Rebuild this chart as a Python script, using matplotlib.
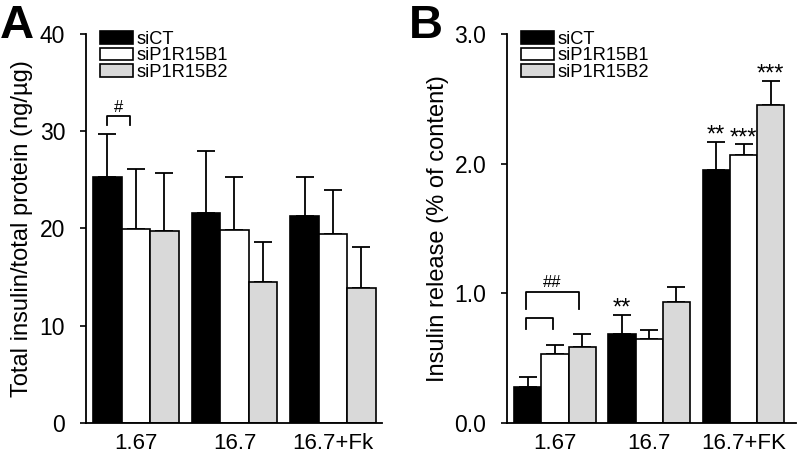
import matplotlib
matplotlib.use("Agg")
import matplotlib.pyplot as plt
import numpy as np

plt.rcParams["font.family"] = ["Liberation Sans", "DejaVu Sans"]

groups_a = ["1.67", "16.7", "16.7+Fk"]
groups_b = ["1.67", "16.7", "16.7+FK"]
series = ["siCT", "siP1R15B1", "siP1R15B2"]
colors = ["black", "white", "#d9d9d9"]

# panel A: total insulin / total protein (ng/ug)
a_mean = [[25.3, 21.6, 21.3],
          [19.9, 19.8, 19.4],
          [19.7, 14.5, 13.9]]
a_err = [[4.4, 6.4, 4.0],
         [6.2, 5.5, 4.6],
         [6.0, 4.15, 4.2]]

# panel B: insulin release (% of content)
b_mean = [[0.28, 0.69, 1.95],
          [0.53, 0.65, 2.07],
          [0.59, 0.93, 2.45]]
b_err = [[0.075, 0.145, 0.22],
         [0.075, 0.07, 0.08],
         [0.10, 0.115, 0.19]]

SPACING = 3.46
W = 1.0

fig = plt.figure(figsize=(7.98, 4.59), dpi=100)
axA = fig.add_axes([0.1078, 0.0784, 0.3709, 0.8476])
axB = fig.add_axes([0.6353, 0.0784, 0.3627, 0.8476])


def draw(ax, means, errs, labels, ylim, yticks, fmt):
    xc = np.arange(len(labels)) * SPACING
    for k in range(len(series)):
        xs = xc + (k - 1) * W
        ax.bar(xs, means[k], width=W, color=colors[k], edgecolor="black",
               linewidth=1.2, label=series[k], zorder=2)
        ax.errorbar(xs, means[k], yerr=[np.zeros(len(errs[k])), errs[k]],
                    fmt="none", ecolor="black", elinewidth=1.3, capsize=6.5,
                    capthick=1.3, zorder=1)
    ax.set_xticks(xc)
    ax.set_xticklabels(labels, fontsize=16)
    ax.tick_params(axis="x", length=0, pad=7)
    ax.set_ylim(*ylim)
    ax.set_yticks(yticks)
    ax.set_yticklabels([fmt % v for v in yticks], fontsize=16.5)
    ax.tick_params(axis="y", direction="out", length=4, width=1.2, pad=11)
    for s in ("top", "right"):
        ax.spines[s].set_visible(False)
    for s in ("left", "bottom"):
        ax.spines[s].set_linewidth(1.3)
    ax.legend(loc="upper left", bbox_to_anchor=(0.01, 1.035), frameon=False,
              fontsize=13.2, handlelength=1.8, handleheight=0.71,
              handletextpad=0.2, labelspacing=-0.05, borderaxespad=0.2)
    return xc


xa = draw(axA, a_mean, a_err, groups_a, (0, 40), [0, 10, 20, 30, 40], "%d")
axA.set_xlim(-1.75, 8.64)
axA.set_ylabel("Total insulin/total protein (ng/\u00b5g)", fontsize=17,
               labelpad=5)

xb = draw(axB, b_mean, b_err, groups_b, (0, 3.0), [0, 1, 2, 3], "%.1f")
axB.set_xlim(-1.76, 8.86)
axB.set_ylabel("Insulin release (% of content)", fontsize=17, labelpad=4)


def bracket(ax, x0, x1, y, h, txt=None):
    ax.plot([x0, x0, x1, x1], [y - h, y, y, y - h], color="black", lw=1.3,
            clip_on=False)
    if txt:
        ax.text((x0 + x1) / 2, y + h * 0.1, txt, ha="center", va="bottom",
                fontsize=12)


bracket(axA, xa[0] - 1.0, xa[0] - 0.2, 31.6, 0.95, "#")
bracket(axB, xb[0] - 1.07, xb[0] + 0.88, 1.01, 0.13, "##")
bracket(axB, xb[0] - 1.07, xb[0] - 0.06, 0.813, 0.085)

star_kw = dict(ha="center", va="bottom", fontsize=17)
axB.text(xb[1] - W, b_mean[0][1] + b_err[0][1] - 0.04, "**", **star_kw)
axB.text(xb[2] - W, b_mean[0][2] + b_err[0][2] - 0.04, "**", **star_kw)
axB.text(xb[2], b_mean[1][2] + b_err[1][2] - 0.04, "***", **star_kw)
axB.text(xb[2] + W, b_mean[2][2] + b_err[2][2] - 0.04, "***", **star_kw)

fig.text(0.0, 1 - 38 / 459, "A", fontsize=34, fontweight="bold", ha="left",
         va="baseline")
fig.text(0.512, 1 - 38 / 459, "B", fontsize=34, fontweight="bold", ha="left",
         va="baseline")

fig.savefig("out.png", dpi=100, facecolor="white")
